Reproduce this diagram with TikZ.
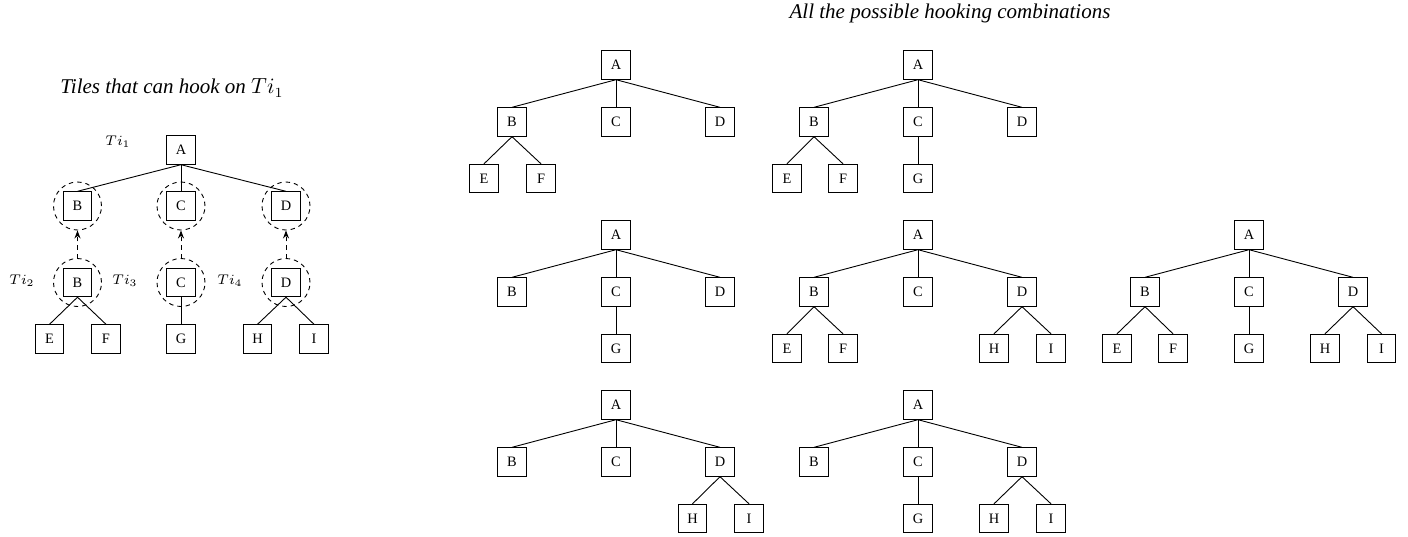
\documentclass[tikz,border=0pt]{standalone}
\usepackage[no-math]{fontspec}
\setmainfont{Liberation Serif}
\usetikzlibrary{arrows.meta}
\newcommand\tilenode[4]{\node[tile] (#1) at (#2,#3) {#4};}
\begin{document}
\begin{tikzpicture}[x=0.5pt,y=-0.5pt,
  tile/.style={draw, line width=0.45pt, minimum width=14.25pt, minimum height=14.25pt, inner sep=0pt, font=\fontsize{7.2}{8}\selectfont},
  hookring/.style={draw, circle, line width=0.45pt, dash pattern=on 2.2pt off 2pt, minimum size=24pt, inner sep=0pt},
  link/.style={line width=0.45pt},
  hookarrow/.style={line width=0.45pt, dash pattern=on 2.2pt off 2pt, -{Stealth[length=4pt,width=3pt]}},
  tilabel/.style={font=\fontsize{7}{8}\selectfont, inner sep=0pt},
  heading/.style={font=\fontsize{10.5}{12}\selectfont\itshape, inner sep=0pt}]
\useasboundingbox (0,0) rectangle (1408,536);

% ---------- left part ----------
\node[heading] (lt) at (172,88) {Tiles that can hook on $Ti_1$};
\tilenode{lA}{181}{150}{A}
\tilenode{lB}{77.5}{206}{B}
\tilenode{lC}{181}{206}{C}
\tilenode{lD}{286}{206}{D}
\tilenode{lB2}{77.5}{282.5}{B}
\tilenode{lC2}{181}{282.5}{C}
\tilenode{lD2}{286}{282.5}{D}
\tilenode{lE}{49.5}{339}{E}
\tilenode{lF}{106}{339}{F}
\tilenode{lG}{181}{339}{G}
\tilenode{lH}{257.5}{339}{H}
\tilenode{lI}{314}{339}{I}
\foreach \n in {lB,lC,lD,lB2,lC2,lD2}
  \node[hookring] (r\n) at (\n) {};
\foreach \p/\c in {lA/lB,lA/lC,lA/lD,lB2/lE,lB2/lF,lC2/lG,lD2/lH,lD2/lI}
  \draw[link] (\p.south) -- (\c.north);
\draw[hookarrow] (rlB2.north) -- (rlB.south);
\draw[hookarrow] (rlC2.north) -- (rlC.south);
\draw[hookarrow] (rlD2.north) -- (rlD.south);
\node[tilabel] (ti1) at (118,142) {$Ti_1$};
\node[tilabel] (ti2) at (22,281) {$Ti_2$};
\node[tilabel] (ti3) at (125,281) {$Ti_3$};
\node[tilabel] (ti4) at (230,281) {$Ti_4$};

% ---------- right part ----------
\node[heading] (rt) at (950,13) {All the possible hooking combinations};

% tree 1
\tilenode{aA}{616}{65}{A}
\tilenode{aB}{512}{122}{B}
\tilenode{aC}{616}{122}{C}
\tilenode{aD}{720}{122}{D}
\tilenode{aE}{484}{178.5}{E}
\tilenode{aF}{541}{178.5}{F}
% tree 2
\tilenode{bA}{918}{65}{A}
\tilenode{bB}{814}{122}{B}
\tilenode{bC}{918}{122}{C}
\tilenode{bD}{1022}{122}{D}
\tilenode{bE}{787}{178.5}{E}
\tilenode{bF}{843}{178.5}{F}
\tilenode{bG}{918}{178.5}{G}
% tree 3
\tilenode{cA}{616}{235}{A}
\tilenode{cB}{512}{292}{B}
\tilenode{cC}{616}{292}{C}
\tilenode{cD}{720}{292}{D}
\tilenode{cG}{616}{348.5}{G}
% tree 4
\tilenode{dA}{918}{235}{A}
\tilenode{dB}{814}{292}{B}
\tilenode{dC}{918}{292}{C}
\tilenode{dD}{1022}{292}{D}
\tilenode{dE}{787}{348.5}{E}
\tilenode{dF}{843}{348.5}{F}
\tilenode{dH}{994}{348.5}{H}
\tilenode{dI}{1051}{348.5}{I}
% tree 5
\tilenode{eA}{1249}{235}{A}
\tilenode{eB}{1145}{292}{B}
\tilenode{eC}{1249}{292}{C}
\tilenode{eD}{1353}{292}{D}
\tilenode{eE}{1117}{348.5}{E}
\tilenode{eF}{1173}{348.5}{F}
\tilenode{eG}{1249}{348.5}{G}
\tilenode{eH}{1325}{348.5}{H}
\tilenode{eI}{1381.5}{348.5}{I}
% tree 6
\tilenode{fA}{616}{405}{A}
\tilenode{fB}{512}{462}{B}
\tilenode{fC}{616}{462}{C}
\tilenode{fD}{720}{462}{D}
\tilenode{fH}{692.5}{518.5}{H}
\tilenode{fI}{749}{518.5}{I}
% tree 7
\tilenode{gA}{918}{405}{A}
\tilenode{gB}{814}{462}{B}
\tilenode{gC}{918}{462}{C}
\tilenode{gD}{1022}{462}{D}
\tilenode{gG}{918}{518.5}{G}
\tilenode{gH}{994}{518.5}{H}
\tilenode{gI}{1051}{518.5}{I}

\foreach \p/\c in {aA/aB,aA/aC,aA/aD,aB/aE,aB/aF,
                   bA/bB,bA/bC,bA/bD,bB/bE,bB/bF,bC/bG,
                   cA/cB,cA/cC,cA/cD,cC/cG,
                   dA/dB,dA/dC,dA/dD,dB/dE,dB/dF,dD/dH,dD/dI,
                   eA/eB,eA/eC,eA/eD,eB/eE,eB/eF,eC/eG,eD/eH,eD/eI,
                   fA/fB,fA/fC,fA/fD,fD/fH,fD/fI,
                   gA/gB,gA/gC,gA/gD,gC/gG,gD/gH,gD/gI}
  \draw[link] (\p.south) -- (\c.north);
\end{tikzpicture}
\end{document}
